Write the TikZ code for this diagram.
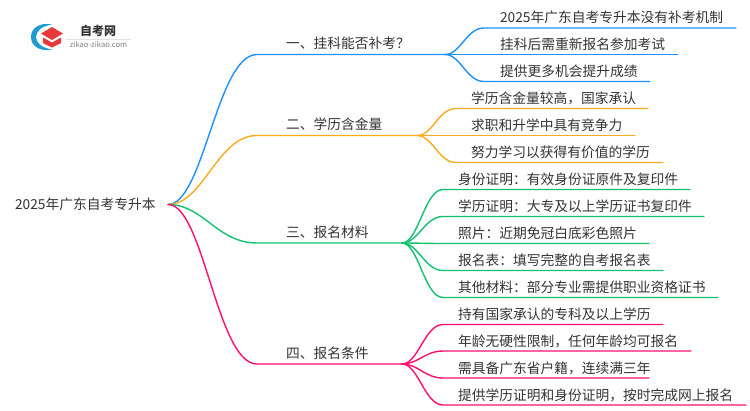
\documentclass[tikz,border=0pt]{standalone}
\usepackage{fontspec}
\setmainfont{Noto Sans CJK SC}
\usetikzlibrary{calc}
\definecolor{cblue}{HTML}{1E90FF}
\definecolor{corange}{HTML}{FAAB1E}
\definecolor{cgreen}{HTML}{12C26D}
\definecolor{cpink}{HTML}{FF0F6F}
\definecolor{ctext}{HTML}{333333}
\definecolor{clogob}{HTML}{1E9BD0}
\definecolor{clogor}{HTML}{E8383A}
\newcommand{\fsz}{\fontsize{13.75pt}{16pt}\selectfont}
\tikzset{
  txt/.style={anchor=base west,inner sep=0pt,outer sep=0pt,text=ctext,font=\fsz},
  wire/.style={line width=1.4pt,line cap=round},
  blue/.style={wire,draw=cblue},
  orange/.style={wire,draw=corange},
  green/.style={wire,draw=cgreen},
  pink/.style={wire,draw=cpink},
}
\newcommand{\conn}[4]{% style, from, to-start, to-end
  \draw[#1] let \p1=(#2),\p2=(#3) in (#2) .. controls ({0.6*\x1+0.4*\x2},\y1) and ({0.45*\x1+0.55*\x2},\y2) .. (#3) -- (#4);
}
\begin{document}
\begin{tikzpicture}[x=1pt,y=-1pt]
\useasboundingbox (0,0) rectangle (750,410);
% logo
\fill[clogob] (52,24.5) .. controls (40,22) and (31,28) .. (31,37) .. controls (31,46) and (40,52) .. (52,49.5) .. controls (42,48) and (36,43) .. (36,37) .. controls (36,31) and (42,26) .. (52,24.5) -- cycle;
\fill[clogor] (52,27) -- (63,33.5) -- (52,40) -- (41,33.5) -- cycle;
\fill[clogor] (43,37.5) -- (52,42.5) -- (61,37.5) -- (61,43) -- (52,47.5) -- (43,43) -- cycle;
\node[inner sep=0pt,text=ctext,font=\fontsize{12pt}{14pt}\selectfont\bfseries] (logoa) at (98,30.5) {自考网};
\draw[draw=black!12,line width=0.6pt] (66,39) coordinate (logol) -- (131,39) coordinate (logor);
\node[inner sep=0pt,text=black!50,font=\fontsize{7.6pt}{9pt}\selectfont] (logob) at (98.5,45) {zikao-zikao.com};
% root
\node[txt] (root) at (15,209.5) {2025年广东自考专升本};
\coordinate (r) at (168,204.5);
% branch ends
\coordinate (b1s) at (257,54.5);  \coordinate (b1e) at (445,54.5);
\coordinate (b2s) at (257,135.5); \coordinate (b2e) at (417,135.5);
\coordinate (b3s) at (257,243);   \coordinate (b3e) at (402,243);
\coordinate (b4s) at (257,364);   \coordinate (b4e) at (402,364);
\conn{blue}{r}{b1s}{b1e}
\conn{orange}{r}{b2s}{b2e}
\conn{green}{r}{b3s}{b3e}
\conn{pink}{r}{b4s}{b4e}
\node[txt] (t1) at (286,48.5) {一、挂科能否补考？};
\node[txt] (t2) at (286,129.5) {二、学历含金量};
\node[txt] (t3) at (286,237.5) {三、报名材料};
\node[txt] (t4) at (286,358.5) {四、报名条件};
% leaves 1
\coordinate (a1s) at (484,28);   \coordinate (a1e) at (736,28);
\coordinate (a2s) at (484,54.5); \coordinate (a2e) at (678,54.5);
\coordinate (a3s) at (484,81.5); \coordinate (a3e) at (650,81.5);
\conn{blue}{b1e}{a1s}{a1e}
\conn{blue}{b1e}{a2s}{a2e}
\conn{blue}{b1e}{a3s}{a3e}
\node[txt] (la1) at (500,22) {2025年广东自考专升本没有补考机制};
\node[txt] (la2) at (500,49) {挂科后需重新报名参加考试};
\node[txt] (la3) at (500,76) {提供更多机会提升成绩};
% leaves 2
\coordinate (c1s) at (456,108.5); \coordinate (c1e) at (648,108.5);
\coordinate (c2s) at (456,135.5); \coordinate (c2e) at (635,135.5);
\coordinate (c3s) at (456,162.5); \coordinate (c3e) at (663,162.5);
\conn{orange}{b2e}{c1s}{c1e}
\conn{orange}{b2e}{c2s}{c2e}
\conn{orange}{b2e}{c3s}{c3e}
\node[txt] (lc1) at (471,103) {学历含金量较高，国家承认};
\node[txt] (lc2) at (471,130) {求职和升学中具有竞争力};
\node[txt] (lc3) at (471,157) {努力学习以获得有价值的学历};
% leaves 3
\coordinate (d1s) at (443,189.5); \coordinate (d1e) at (690,189.5);
\coordinate (d2s) at (443,216.5); \coordinate (d2e) at (704,216.5);
\coordinate (d3s) at (443,243.5); \coordinate (d3e) at (649,243.5);
\coordinate (d4s) at (443,270.5); \coordinate (d4e) at (663,270.5);
\coordinate (d5s) at (443,297.5); \coordinate (d5e) at (718,297.5);
\conn{green}{b3e}{d1s}{d1e}
\conn{green}{b3e}{d2s}{d2e}
\conn{green}{b3e}{d3s}{d3e}
\conn{green}{b3e}{d4s}{d4e}
\conn{green}{b3e}{d5s}{d5e}
\node[txt] (ld1) at (458,184) {身份证明：有效身份证原件及复印件};
\node[txt] (ld2) at (458,211) {学历证明：大专及以上学历证书复印件};
\node[txt] (ld3) at (458,238) {照片：近期免冠白底彩色照片};
\node[txt] (ld4) at (458,265) {报名表：填写完整的自考报名表};
\node[txt] (ld5) at (458,292) {其他材料：部分专业需提供职业资格证书};
% leaves 4
\coordinate (e1s) at (443,324.5); \coordinate (e1e) at (663,324.5);
\coordinate (e2s) at (443,351);   \coordinate (e2e) at (691,351);
\coordinate (e3s) at (443,378);   \coordinate (e3e) at (649,378);
\coordinate (e4s) at (443,405);   \coordinate (e4e) at (746,405);
\conn{pink}{b4e}{e1s}{e1e}
\conn{pink}{b4e}{e2s}{e2e}
\conn{pink}{b4e}{e3s}{e3e}
\conn{pink}{b4e}{e4s}{e4e}
\node[txt] (le1) at (458,319) {持有国家承认的专科及以上学历};
\node[txt] (le2) at (458,346) {年龄无硬性限制，任何年龄均可报名};
\node[txt] (le3) at (458,373) {需具备广东省户籍，连续满三年};
\node[txt] (le4) at (458,400) {提供学历证明和身份证明，按时完成网上报名};
\end{tikzpicture}
\end{document}
